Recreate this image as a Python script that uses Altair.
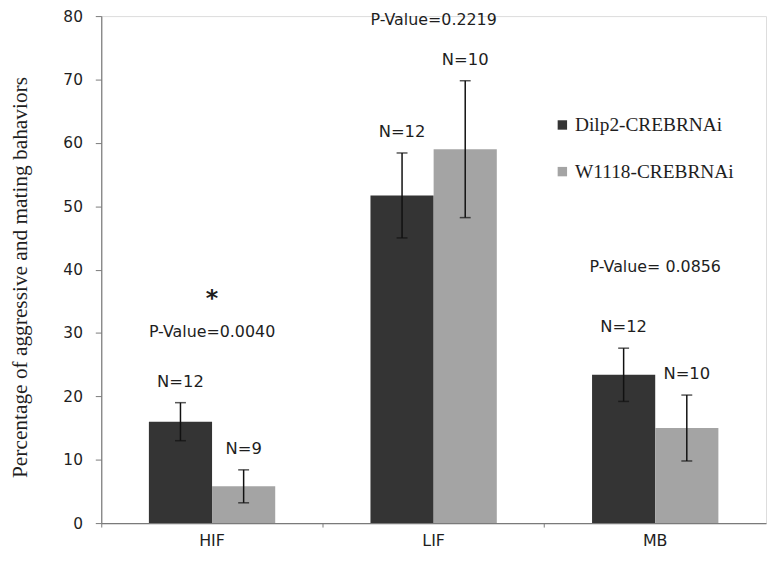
import altair as alt
import pandas as pd

categories = ["HIF", "LIF", "MB"]
series = ["Dilp2-CREBRNAi", "W1118-CREBRNAi"]
dilp2_mean = [16.0, 51.7, 23.4]
dilp2_err = [3.0, 6.7, 4.2]
w1118_mean = [5.8, 59.0, 15.0]
w1118_err = [2.6, 10.8, 5.2]
dilp2_n = ["N=12", "N=12", "N=12"]
w1118_n = ["N=9", "N=10", "N=10"]
pvalue_text = ["P-Value=0.0040", "P-Value=0.2219", "P-Value= 0.0856"]
pvalue_y = [30.2, 79.3, 40.4]
star_text = ["*", "", ""]
star_y = [36.0, 0, 0]

rows = []
for i, c in enumerate(categories):
    rows.append(dict(cat=c, s=series[0], v=dilp2_mean[i], lo=dilp2_mean[i] - dilp2_err[i],
                     hi=dilp2_mean[i] + dilp2_err[i], n=dilp2_n[i]))
    rows.append(dict(cat=c, s=series[1], v=w1118_mean[i], lo=w1118_mean[i] - w1118_err[i],
                     hi=w1118_mean[i] + w1118_err[i], n=w1118_n[i]))
df = pd.DataFrame(rows)
ann = pd.DataFrame(dict(cat=categories, p=pvalue_text, py=pvalue_y))
star = pd.DataFrame(dict(cat=categories, t=star_text, y=star_y))
star = star[star.t != ""]

AX = "#7a7a7a"
TXT = "#1e1e1e"

x_scale = alt.Scale(paddingInner=0, paddingOuter=0)
x_enc = alt.X("cat:N", sort=categories, title=None, scale=x_scale,
              axis=alt.Axis(labelAngle=0, labelFont="DejaVu Sans", labelFontSize=16,
                            labelColor=TXT, labelPadding=6, bandPosition=0,
                            tickSize=4, tickColor=AX, domainColor=AX,
                            domainWidth=1.2, grid=False))
xoff = alt.XOffset("s:N", sort=series, scale=alt.Scale(paddingInner=0, paddingOuter=0.754))
y_scale = alt.Scale(domain=[0, 80], nice=False)
y_axis = alt.Axis(values=list(range(0, 81, 10)), labelFont="DejaVu Sans", labelFontSize=15.5,
                  labelColor=TXT, labelPadding=13, tickSize=6, tickColor=AX,
                  domainColor=AX, domainWidth=1.2, grid=False,
                  title="Percentage of aggressive and mating bahaviors",
                  titleFont="Liberation Serif", titleFontSize=21.5, titleFontWeight="normal",
                  titleColor=TXT, titleX=-81, titleY=263, titleAngle=-90,
                  titleAlign="center", titleBaseline="middle")

color = alt.Color("s:N", sort=series,
                  scale=alt.Scale(domain=series, range=["#343434", "#a4a4a4"]),
                  legend=alt.Legend(title=None, orient="none", legendX=455, legendY=100,
                                    symbolType="square", symbolSize=90, symbolStrokeWidth=0,
                                    labelFont="Liberation Serif", labelFontSize=19.5,
                                    labelColor=TXT, labelOffset=3, rowPadding=26))

base = alt.Chart(df)
xc = alt.X("cat:N", sort=categories)
bars = base.mark_bar(strokeWidth=0).encode(
    x=x_enc, xOffset=xoff, y=alt.Y("v:Q", scale=y_scale, axis=y_axis), color=color)
rules = base.mark_rule(color="#111", strokeWidth=1.5).encode(
    x=xc, xOffset=xoff, y="lo:Q", y2="hi:Q")
cap_hi = base.mark_tick(color="#111", thickness=1.5, size=11, orient="horizontal").encode(
    x=xc, xOffset=xoff, y="hi:Q")
cap_lo = base.mark_tick(color="#111", thickness=1.5, size=11, orient="horizontal").encode(
    x=xc, xOffset=xoff, y="lo:Q")
ntext = base.mark_text(font="DejaVu Sans", fontSize=16.5, color=TXT, baseline="middle",
                       dy=-21).encode(
    x=xc, xOffset=xoff, y="hi:Q", text="n:N")
ptext = alt.Chart(ann).mark_text(font="DejaVu Sans", fontSize=16, color=TXT,
                                 baseline="middle").encode(
    x=xc, y="py:Q", text="p:N")
stext = alt.Chart(star).mark_text(font="DejaVu Sans", fontSize=24, fontWeight="bold",
                                  color=TXT, baseline="middle", dy=4).encode(
    x=xc, y="y:Q", text="t:N")

chart = alt.layer(bars, rules, cap_hi, cap_lo, ntext, ptext, stext).properties(
    width=670, height=511,
    autosize=alt.AutoSizeParams(type="none"),
    padding={"left": 94, "top": 6, "right": 1, "bottom": 28},
).configure_view(stroke=None).configure(background="white")

chart.save("out.html", embed_options={"renderer": "svg", "actions": False})
